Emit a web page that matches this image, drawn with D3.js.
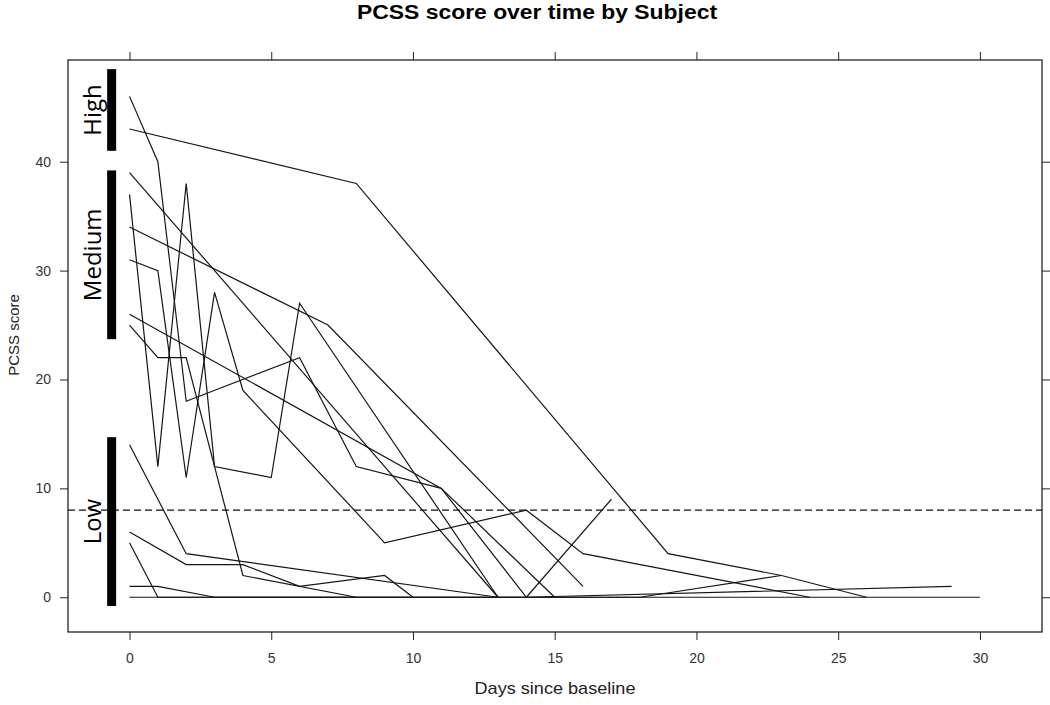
<!DOCTYPE html>
<html><head><meta charset="utf-8">
<script src="https://cdn.jsdelivr.net/npm/d3@7"></script>
<style>body{margin:0;background:#fff}</style>
</head><body><svg id="c" width="1050" height="705"></svg>
<script>
const chartTitle = "PCSS score over time by Subject";
const xLabel = "Days since baseline";
const yLabel = "PCSS score";
const xTicks = [0, 5, 10, 15, 20, 25, 30];
const yTicks = [0, 10, 20, 30, 40];
const threshold = 8;
const bandLabels = ["High", "Medium", "Low"];
const bandTop = [48.5, 39.2, 14.7];
const bandBottom = [41, 23.7, -0.8];
const bandDay = -0.63;

const subjectIds = ["S01","S02","S03","S04","S05","S06","S07","S08","S09","S10","S11","S12","S13"];
const subjectDays = [
  [0, 8, 19, 23, 26],
  [0, 1, 2, 6, 8, 11, 14, 17],
  [0, 13],
  [0, 1, 2, 3, 5, 6, 13],
  [0, 7, 16],
  [0, 1, 2, 3, 4, 9, 14, 16, 24],
  [0, 11, 15],
  [0, 1, 2, 4, 8],
  [0, 2, 13],
  [0, 2, 4, 6, 9, 10],
  [0, 1, 14, 29],
  [0, 1, 3, 18, 23],
  [0, 30]
];
const subjectScores = [
  [43, 38, 4, 2, 0],
  [46, 40, 18, 22, 12, 10, 0, 9],
  [39, 0],
  [37, 12, 38, 12, 11, 27, 0],
  [34, 25, 1],
  [31, 30, 11, 28, 19, 5, 8, 4, 0],
  [26, 10, 0],
  [25, 22, 22, 2, 0],
  [14, 4, 0],
  [6, 3, 3, 1, 2, 0],
  [5, 0, 0, 1],
  [1, 1, 0, 0, 2],
  [0, 0]
];

const svg = d3.select("#c");
svg.append("rect").attr("width", 1050).attr("height", 705).attr("fill", "#fff");

const L = 68, R = 1042, T = 60, B = 632;
const x = d3.scaleLinear().domain([-2.17, 32.19]).range([L, R]);
const y = d3.scaleLinear().domain([-3.19, 49.34]).range([B, T]);

const tickFont = "'Liberation Sans', Arial, sans-serif";

// axes
const gB = svg.append("g").attr("transform", `translate(0,${B})`)
  .call(d3.axisBottom(x).tickValues(xTicks).tickSize(8).tickSizeOuter(0).tickPadding(13));
const gT = svg.append("g").attr("transform", `translate(0,${T})`)
  .call(d3.axisTop(x).tickValues(xTicks).tickSize(8).tickSizeOuter(0).tickFormat(""));
const gL = svg.append("g").attr("transform", `translate(${L},0)`)
  .call(d3.axisLeft(y).tickValues(yTicks).tickSize(8).tickSizeOuter(0).tickPadding(9));
const gR = svg.append("g").attr("transform", `translate(${R},0)`)
  .call(d3.axisRight(y).tickValues(yTicks).tickSize(8).tickSizeOuter(0).tickFormat(""));
[gB, gT, gL, gR].forEach(g => {
  g.select(".domain").remove();
  g.selectAll(".tick line").attr("stroke", "#222").attr("stroke-width", 1);
  g.selectAll(".tick text").attr("fill", "#333").attr("font-size", 14).attr("font-family", tickFont);
});

// frame
svg.append("rect").attr("x", L).attr("y", T).attr("width", R - L).attr("height", B - T)
  .attr("fill", "none").attr("stroke", "#111").attr("stroke-width", 1.2);

// threshold
svg.append("line").attr("x1", L).attr("x2", R).attr("y1", y(threshold)).attr("y2", y(threshold))
  .attr("stroke", "#111").attr("stroke-width", 1.1).attr("stroke-dasharray", "7,4");

// subject lines
const line = d3.line().x(d => x(d[0])).y(d => y(d[1]));
subjectIds.forEach((id, i) => {
  const pts = subjectDays[i].map((d, j) => [d, subjectScores[i][j]]);
  svg.append("path").datum(pts).attr("d", line)
    .attr("fill", "none").attr("stroke", "#151515").attr("stroke-width", 1.2)
    .attr("stroke-linejoin", "miter");
});

// severity bands
bandLabels.forEach((lab, i) => {
  svg.append("rect")
    .attr("x", x(bandDay) - 4.5).attr("width", 9)
    .attr("y", y(bandTop[i])).attr("height", y(bandBottom[i]) - y(bandTop[i]))
    .attr("fill", "#000");
  const cy = y((bandTop[i] + bandBottom[i]) / 2);
  svg.append("text").text(lab)
    .attr("transform", `translate(${x(bandDay) - 10.5},${cy}) rotate(-90)`)
    .attr("text-anchor", "middle")
    .attr("font-family", "'Open Sans', 'Noto Sans', sans-serif")
    .attr("font-size", 24).attr("fill", "#000");
});

// titles
svg.append("text").text(chartTitle)
  .attr("x", 537).attr("y", 19).attr("text-anchor", "middle")
  .attr("textLength", 360).attr("lengthAdjust", "spacingAndGlyphs")
  .attr("font-family", tickFont).attr("font-weight", "bold").attr("font-size", 20).attr("fill", "#000");
svg.append("text").text(xLabel)
  .attr("x", (L + R) / 2).attr("y", 694).attr("text-anchor", "middle")
  .attr("textLength", 161).attr("lengthAdjust", "spacingAndGlyphs")
  .attr("font-family", tickFont).attr("font-size", 17).attr("fill", "#222");
svg.append("text").text(yLabel)
  .attr("transform", `translate(19,335) rotate(-90)`).attr("text-anchor", "middle")
  .attr("font-family", tickFont).attr("font-size", 15).attr("fill", "#222");
</script></body></html>
